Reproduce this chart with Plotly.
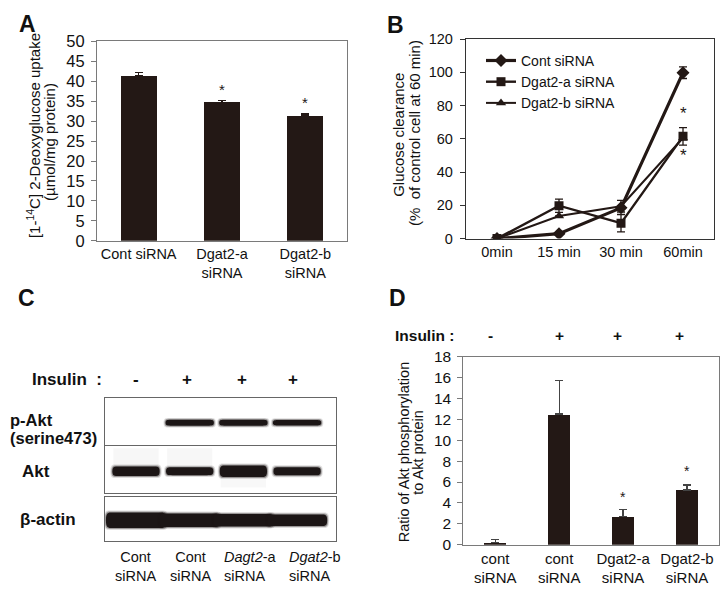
import plotly.graph_objects as go

W, H = 722, 602
def px(x): return x / W
def py(y): return 1 - y / H

FONT = "Liberation Sans, Arial, sans-serif"
INK = "#231815"

# ---------------- data ----------------
# Panel A
a_labels = ["Cont siRNA", "Dgat2-a<br>siRNA", "Dgat2-b<br>siRNA"]
a_values = [41.3, 34.6, 31.3]
a_errors = [0.8, 0.6, 0.5]
a_star_y = [None, 37.9, 34.7]

# Panel B
b_labels = ["0min", "15 min", "30 min", "60min"]
b_cont = [0, 3.0, 18.5, 99.8]
b_cont_err = [0, 0, 0, 3.5]
b_dgat2a = [0, 19.8, 9.3, 61.5]
b_dgat2a_err = [0, 4.0, 5.2, 5.3]
b_dgat2b = [0, 13.6, 19.5, 60.5]
b_dgat2b_err = [0, 0, 3.5, 0]
b_star_y = [75, 50]

# Panel C (western blot: band thickness per lane, px)
c_lane_labels = ["Cont<br>siRNA", "Cont<br>siRNA", "<i>Dagt2</i>-a<br>siRNA", "<i>Dgat2</i>-b<br>siRNA"]
c_insulin = ["-", "+", "+", "+"]
c_rows = ["p-Akt", "Akt", "β-actin"]
c_pakt = [0, 6, 6, 5.5]
c_akt = [10, 8, 12, 8.5]
c_actin = [16, 14, 13, 12]

# Panel D
d_labels = ["cont<br>siRNA", "cont<br>siRNA", "Dgat2-a<br>siRNA", "Dgat2-b<br>siRNA"]
d_insulin = ["-", "+", "+", "+"]
d_values = [0.21, 12.5, 2.7, 5.25]
d_errors = [0.3, 3.2, 0.68, 0.47]
d_star_y = [None, None, 4.55, 7.1]

fig = go.Figure()

# ---------------- Panel A ----------------
fig.add_trace(go.Bar(
    x=list(range(len(a_values))), y=a_values, width=0.43,
    marker=dict(color=INK, line=dict(width=0)),
    error_y=dict(type="data", symmetric=False, array=a_errors,
                 arrayminus=[0] * len(a_errors), color=INK, thickness=1.3, width=4),
    xaxis="x", yaxis="y", showlegend=False))
for i, s in enumerate(a_star_y):
    if s is not None:
        fig.add_annotation(x=i, y=s, xref="x", yref="y", text="*", showarrow=False,
                           font=dict(size=15, color=INK, family=FONT))

# ---------------- Panel B ----------------
b_x = list(range(len(b_labels)))
fig.add_trace(go.Scatter(
    x=b_x, y=b_cont, name="Cont siRNA", mode="lines+markers",
    line=dict(color=INK, width=3.2), marker=dict(symbol="diamond", size=10, color=INK),
    error_y=dict(type="data", array=b_cont_err, color=INK, thickness=1.3, width=4),
    xaxis="x2", yaxis="y2"))
fig.add_trace(go.Scatter(
    x=b_x, y=b_dgat2a, name="Dgat2-a siRNA", mode="lines+markers",
    line=dict(color=INK, width=2.4), marker=dict(symbol="square", size=9, color=INK),
    error_y=dict(type="data", array=b_dgat2a_err, color=INK, thickness=1.3, width=4),
    xaxis="x2", yaxis="y2"))
fig.add_trace(go.Scatter(
    x=b_x, y=b_dgat2b, name="Dgat2-b siRNA", mode="lines+markers",
    line=dict(color=INK, width=2.0), marker=dict(symbol="triangle-up", size=9, color=INK),
    error_y=dict(type="data", array=b_dgat2b_err, color=INK, thickness=1.3, width=4),
    xaxis="x2", yaxis="y2"))
for s in b_star_y:
    fig.add_annotation(x=3, y=s, xref="x2", yref="y2", text="*", showarrow=False,
                       font=dict(size=17, color=INK, family=FONT))

# ---------------- Panel D ----------------
fig.add_trace(go.Bar(
    x=list(range(len(d_values))), y=d_values, width=0.35,
    marker=dict(color=INK, line=dict(width=0)),
    error_y=dict(type="data", symmetric=False, array=d_errors,
                 arrayminus=[0] * len(d_errors), color="#444", thickness=1.3, width=4),
    xaxis="x3", yaxis="y3", showlegend=False))
for i, s in enumerate(d_star_y):
    if s is not None:
        fig.add_annotation(x=i, y=s, xref="x3", yref="y3", text="*", showarrow=False,
                           font=dict(size=14, color=INK, family=FONT))

# ---------------- Panel C (blot) ----------------
lane_x0 = 136.0
lane_dx = 53.7
blot_left, blot_right = 105, 336
c_xrange = [(blot_left - lane_x0) / lane_dx, (blot_right - lane_x0) / lane_dx]
rows_px = [(400.7, 449.3), (450.7, 499.3), (502.7, 548.3)]

def band_path(xc, hw, yc, t, r):
    x0, x1 = xc - hw, xc + hw
    yt, yb = yc + t / 2, yc - t / 2
    return (f"M {x0},{yc} C {x0},{yt} {x0 + r * 0.3},{yt} {x0 + r},{yt} L {x1 - r},{yt} "
            f"C {x1 - r * 0.3},{yt} {x1},{yt} {x1},{yc} C {x1},{yb} {x1 - r * 0.3},{yb} {x1 - r},{yb} "
            f"L {x0 + r},{yb} C {x0 + r * 0.3},{yb} {x0},{yb} {x0},{yc} Z")

row_data = [(c_pakt, 0.45), (c_akt, 0.44), (c_actin, 0.56)]
shapes = []
for k, ((thick, hw), (t0, t1)) in enumerate(zip(row_data, rows_px)):
    xa = f"x{4 + k}"
    ya = f"y{4 + k}"
    h = t1 - t0
    # faint smear above Akt in first two lanes, below in third
    if k == 1:
        for lane in (0, 1):
            shapes.append(dict(type="rect", xref=xa, yref=ya, x0=lane - 0.42, x1=lane + 0.42,
                               y0=2, y1=h / 2 - 2, fillcolor="rgba(120,120,120,0.06)",
                               line=dict(width=0), layer="above"))
        shapes.append(dict(type="rect", xref=xa, yref=ya, x0=2 - 0.42, x1=2 + 0.42,
                           y0=-h / 2 + 6, y1=-7, fillcolor="rgba(120,120,120,0.05)",
                           line=dict(width=0), layer="above"))
    for lane, t in enumerate(thick):
        if t <= 0:
            continue
        for extra, op in ((4, 0.14), (2, 0.35), (0, 1.0)):
            shapes.append(dict(
                type="path", xref=xa, yref=ya,
                path=band_path(lane, hw + extra / lane_dx / 2, -1.5, t + extra, 0.12),
                fillcolor=f"rgba(28,22,22,{op})", line=dict(width=0), layer="above"))
    fig.add_trace(go.Scatter(x=[0], y=[0], mode="markers", marker=dict(opacity=0),
                             xaxis=xa, yaxis=ya, showlegend=False, hoverinfo="skip"))

# ---------------- layout / axes ----------------
frame = dict(showline=True, mirror=True, linecolor="#7a7a7a", linewidth=1,
             showgrid=False, zeroline=False)
tickfont = dict(family=FONT, size=16.5, color="#111")

layout = dict(
    width=W, height=H, margin=dict(l=0, r=0, t=0, b=0),
    paper_bgcolor="white", plot_bgcolor="white",
    font=dict(family=FONT, color="#111"),
    bargap=0,
    showlegend=True,
    legend=dict(x=px(481), y=py(37), xanchor="left", yanchor="top",
                bgcolor="rgba(0,0,0,0)", font=dict(family=FONT, size=14, color="#111"),
                itemwidth=30, tracegroupgap=0),
    xaxis=dict(domain=[px(97), px(347)], range=[-0.5, 2.5], anchor="y",
               tickvals=list(range(3)), ticktext=a_labels, ticks="",
               tickfont=dict(family=FONT, size=14.5, color="#111"), **frame),
    yaxis=dict(domain=[py(239), py(33.3)], range=[0, 50], dtick=5, anchor="x",
               ticks="outside", ticklen=5, tickcolor="#7a7a7a", ticklabelstandoff=3,
               tickfont=tickfont, **frame),
    xaxis2=dict(domain=[px(466), px(714)], range=[-0.5, 3.5], anchor="y2",
                tickvals=b_x, ticktext=b_labels, ticks="",
                tickfont=dict(family=FONT, size=14.5, color="#111"),
                showline=True, mirror=True, linecolor="#333", linewidth=1.3,
                showgrid=False, zeroline=False),
    yaxis2=dict(domain=[py(236.7), py(31)], range=[0, 120], dtick=20, anchor="x2",
                ticks="outside", ticklen=5, tickcolor="#333", ticklabelstandoff=4,
                tickfont=dict(family=FONT, size=14.5, color="#111"),
                showline=True, mirror=True, linecolor="#333", linewidth=1.3,
                showgrid=False, zeroline=False),
    xaxis3=dict(domain=[px(463.3), px(719)], range=[-0.5, 3.5], anchor="y3",
                tickvals=list(range(4)), ticktext=d_labels, ticks="",
                ticklabeloverflow="allow",
                tickfont=dict(family=FONT, size=15, color="#111"), **frame),
    yaxis3=dict(domain=[py(552.3), py(358.3)], range=[0, 18], dtick=2, anchor="x3",
                ticks="outside", ticklen=5, tickcolor="#7a7a7a", ticklabelstandoff=3,
                tickfont=dict(family=FONT, size=15.5, color="#111"), **frame),
    shapes=shapes,
)
for k, (t0, t1) in enumerate(rows_px):
    h = t1 - t0
    layout[f"xaxis{4 + k}"] = dict(domain=[px(blot_left), px(blot_right)], range=c_xrange,
                                   anchor=f"y{4 + k}", showticklabels=False, ticks="",
                                   showline=True, mirror=True, linecolor="#666", linewidth=1,
                                   showgrid=False, zeroline=False, fixedrange=True)
    layout[f"yaxis{4 + k}"] = dict(domain=[py(t1), py(t0)], range=[-h / 2, h / 2],
                                   anchor=f"x{4 + k}", showticklabels=False, ticks="",
                                   showline=True, mirror=True, linecolor="#666", linewidth=1,
                                   showgrid=False, zeroline=False, fixedrange=True)
fig.update_layout(**layout)

def ann(x, y, text, size, bold=False, angle=0, xanchor="center", align="center"):
    t = f"<b>{text}</b>" if bold else text
    fig.add_annotation(x=px(x), y=py(y), xref="paper", yref="paper", text=t,
                       showarrow=False, textangle=angle, xanchor=xanchor, yanchor="middle",
                       align=align, font=dict(family=FONT, size=size, color="#111"))

# panel letters
ann(27.5, 15.5, "A", 23, bold=True)
ann(395, 16, "B", 23, bold=True)
ann(27, 298, "C", 23, bold=True)
ann(398, 298, "D", 23, bold=True)

# axis titles (rotated)
ann(33, 131, "[1-<sup>14</sup>C] 2-Deoxyglucose uptake", 15, angle=-90)
ann(50, 137, "(µmol/mg protein)", 15, angle=-90)
ann(397.7, 130, "Glucose clearance", 15, angle=-90)
ann(414.3, 127.5, "(%\u00a0 of control cell at 60 min)", 15, angle=-90)
ann(404, 457, "Ratio of Akt phosphorylation", 14.5, angle=-90)
ann(418.5, 457, "to Akt protein", 14.5, angle=-90)

# panel C labels
ann(30, 381.7, "Insulin\u00a0 :", 17, bold=True, xanchor="left")
for xpos, s in zip([136, 186.7, 241.7, 293.3], c_insulin):
    ann(xpos, 381.7, s, 17, bold=True)
ann(8, 424, "p-Akt", 16.5, bold=True, xanchor="left")
ann(8, 442, "(serine473)", 16.5, bold=True, xanchor="left")
ann(20, 476.7, "Akt", 17, bold=True, xanchor="left")
ann(18, 526.7, "β-actin", 17, bold=True, xanchor="left")
ann(135, 574.7, c_lane_labels[0], 14.5)
ann(190, 574.7, c_lane_labels[1], 14.5)
ann(222, 574.7, c_lane_labels[2], 14.5, xanchor="left", align="left")
ann(287, 574.7, c_lane_labels[3], 14.5, xanchor="left", align="left")

# panel D insulin row
ann(392.7, 336.7, "Insulin :", 15.5, bold=True, xanchor="left")
for xpos, s in zip([491, 559.3, 617, 679.3], d_insulin):
    ann(xpos, 336.7, s, 15.5, bold=True)

fig.write_html("out.html", config={"displayModeBar": False},
               post_script="document.body.style.margin='0';document.body.style.overflow='hidden';")
